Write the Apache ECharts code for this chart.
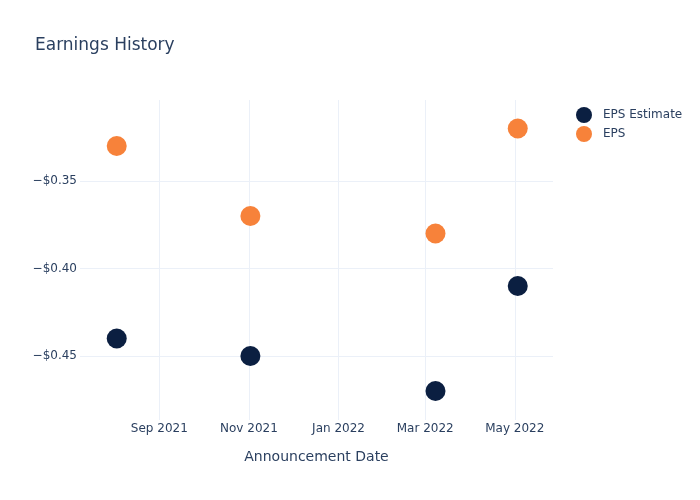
<!DOCTYPE html>
<html>
<head>
<meta charset="utf-8">
<script src="https://cdn.jsdelivr.net/npm/echarts@6/dist/echarts.min.js"></script>
<style>html,body{margin:0;padding:0;background:#fff}#c{width:700px;height:500px}</style>
</head>
<body>
<div id="c"></div>
<script>
var dates = ['2021-08-03', '2021-11-02', '2022-03-08', '2022-05-03'];
var epsEstimate = [-0.44, -0.45, -0.47, -0.41];
var eps = [-0.33, -0.37, -0.38, -0.32];
var monthNames = ['Jan','Feb','Mar','Apr','May','Jun','Jul','Aug','Sep','Oct','Nov','Dec'];

function toTs(s){ var p = s.split('-'); return Date.UTC(+p[0], +p[1]-1, +p[2]); }
function pairs(vals){ return dates.map(function(d,i){ return [toTs(d), vals[i]]; }); }

var FONT = '"DejaVu Sans", Verdana, sans-serif';
var textColor = '#2a3f5f';
var gridColor = '#ebf0f8';
var chart = echarts.init(document.getElementById('c'), null, {renderer:'canvas'});
chart.setOption({
  animation: false,
  backgroundColor: '#fff',
  textStyle: {fontFamily: FONT},
  title: {
    text: 'Earnings History', left: 30, top: 32,
    textStyle: {fontSize: 17, fontWeight: 'normal', color: textColor, fontFamily: FONT}
  },
  legend: {
    orient: 'vertical', left: 571, top: 102, itemGap: 3,
    itemWidth: 24, itemHeight: 16, icon: 'circle',
    textStyle: {fontSize: 12, color: textColor, fontFamily: FONT, padding: [0,0,0,2]},
    data: ['EPS Estimate', 'EPS']
  },
  grid: {left: 80, right: 147, top: 100, bottom: 80, containLabel: false},
  xAxis: {
    type: 'time',
    min: Date.UTC(2021, 6, 9),
    max: Date.UTC(2022, 4, 27),
    splitNumber: 4,
    name: 'Announcement Date', nameLocation: 'middle', nameGap: 30,
    nameTextStyle: {fontSize: 14, color: textColor, fontFamily: FONT},
    axisLine: {show: false}, axisTick: {show: false},
    axisLabel: {
      color: textColor, fontSize: 12, margin: 3, fontFamily: FONT,
      formatter: function(v){ var d = new Date(v); return monthNames[d.getUTCMonth()] + ' ' + d.getUTCFullYear(); }
    },
    splitLine: {show: true, showMinLine: false, showMaxLine: false, lineStyle: {color: gridColor, width: 1}}
  },
  yAxis: {
    type: 'value',
    min: -0.4866, max: -0.3037,
    splitNumber: 4,
    axisLine: {show: false}, axisTick: {show: false},
    axisLabel: {
      color: textColor, fontSize: 12, margin: 3, fontFamily: FONT,
      showMinLabel: false, showMaxLabel: false,
      formatter: function(v){ return (v < 0 ? '\u2212' : '') + '$' + Math.abs(v).toFixed(2); }
    },
    splitLine: {show: true, showMinLine: false, showMaxLine: false, lineStyle: {color: gridColor, width: 1}}
  },
  series: [
    {name: 'EPS Estimate', type: 'scatter', symbolSize: 20, itemStyle: {color: '#0b1f41', opacity: 1}, data: pairs(epsEstimate)},
    {name: 'EPS', type: 'scatter', symbolSize: 20, itemStyle: {color: '#f7823a', opacity: 1}, data: pairs(eps)}
  ]
});
</script>
</body>
</html>
